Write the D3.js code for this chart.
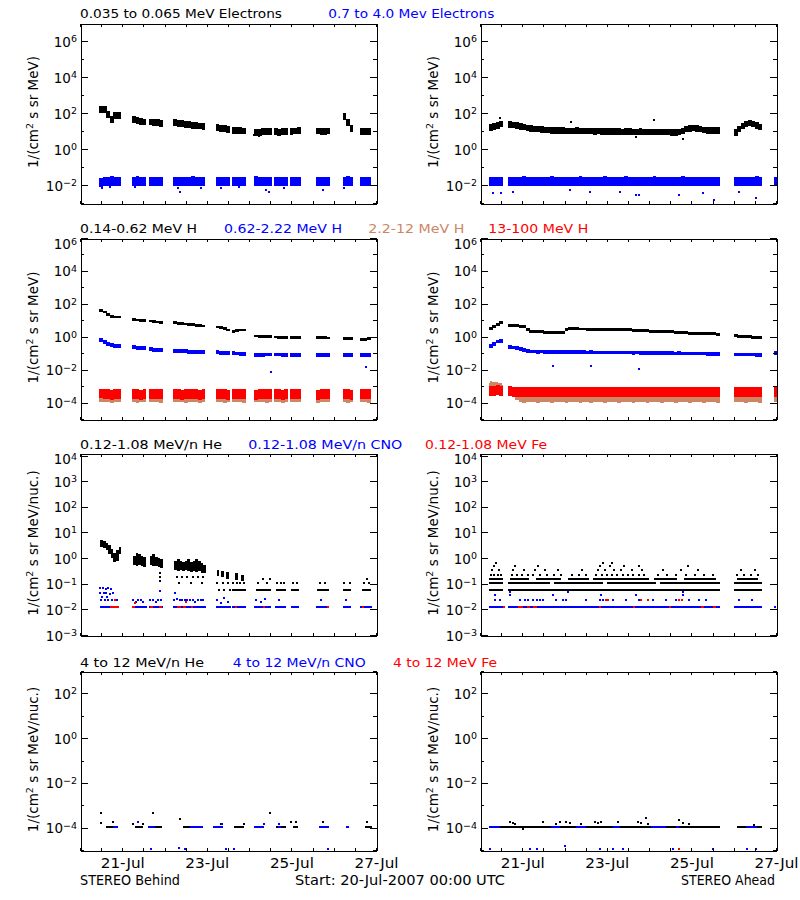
<!DOCTYPE html>
<html><head><meta charset="utf-8">
<script src="https://cdn.jsdelivr.net/npm/d3@7"></script>
<style>body{margin:0;background:#fff}svg{display:block}</style>
</head><body><svg id="c" width="800" height="900"></svg>
<script>
// ---------------- DATA (hours since 20-Jul-2007 00:00 UTC, values as log10) ----------------
const tickHours = d3.range(0, 169, 12);
const dateLabels = ["21-Jul", "23-Jul", "25-Jul", "27-Jul"];
const dateLabelHours = [24, 72, 120, 168];
const BIN = 2; // hours per sample

// data coverage: [start hour, number of 2-h samples]
const behindSegs = [[11,6],[29.5,4],[39,4],[53,9],[77,4],[86,4],[99,5],[110,4],[119,3],[134,4],[149,3],[159,3]];
const aheadSegs = [[5,4],[16,60],[144,8],[167,1]];

// Row 1: electrons
const eLoBehind = [2.2,2.2,1.9,1.65,1.85,1.85, 1.65,1.6,1.55,1.5, 1.5,1.45,1.45,1.42, 1.45,1.4,1.4,1.38,1.35,1.32,1.3,1.28,1.25, 1.2,1.15,1.12,1.1, 1.05,1.05,1.02,1.0, 0.92,0.9,0.95,0.95,0.98, 0.95,0.92,0.95,0.98, 0.95,1.0,1.05, 1.0,0.95,0.95,1.0, 1.8,1.45,1.12, 0.98,0.95,0.98];
const eHiBehind = [-1.85,-1.8,-1.82,-1.78,-1.8,-1.82, -1.8,-1.78,-1.82,-1.8, -1.8,-1.82,-1.8,-1.8, -1.82,-1.8,-1.8,-1.82,-1.8,-1.78,-1.8,-1.82,-1.8, -1.82,-1.8,-1.8,-1.82, -1.8,-1.8,-1.82,-1.8, -1.78,-1.8,-1.82,-1.82,-1.8, -1.8,-1.82,-1.8,-1.8, -1.8,-1.82,-1.8, -1.82,-1.8,-1.8,-1.82, -1.8,-1.78,-1.8, -1.82,-1.8,-1.8];
const eLoAhead = [1.2,1.25,1.3,1.38,
  1.35,1.32,1.3,1.25,1.22, 1.18,1.15,1.12,1.1,
  1.08,1.06,1.05,1.04,1.03,1.02,1.02,1.01,1.0,1.0,1.02,1.0,0.99,1.0,1.0,0.98,0.99,
  0.98,0.97,0.97,0.96,0.97,0.96,0.95,0.96,0.96,0.95,0.95,0.96,0.95,0.94,0.95,0.95,0.94,0.95,0.95,
  0.94,0.93,0.92,0.95,1.0, 1.1,1.15,1.18,1.15,1.1, 1.06,1.04,1.03,1.02,1.02,
  0.92,1.1,1.28,1.38,1.45,1.4,1.3,1.22,
  null];
const eHiAhead = [-1.82,-1.8,-1.8,-1.82,
  -1.8,-1.82,-1.8,-1.8,-1.78,-1.8,-1.82,-1.8,-1.8,-1.82,
  -1.8,-1.8,-1.78,-1.8,-1.82,-1.8,-1.8,-1.82,-1.8,-1.8,
  -1.78,-1.8,-1.82,-1.8,-1.8,-1.8,-1.82,-1.78,-1.8,-1.8,
  -1.82,-1.8,-1.8,-1.78,-1.8,-1.82,-1.8,-1.8,-1.8,-1.82,
  -1.8,-1.78,-1.8,-1.82,-1.8,-1.8,-1.8,-1.82,-1.8,-1.78,
  -1.8,-1.8,-1.82,-1.8,-1.8,-1.82,-1.8,-1.8,-1.82,-1.8,
  -1.82,-1.8,-1.8,-1.82,-1.8,-1.8,-1.78,-1.82,
  -1.8];
const eLoBehindOut = [[99,0.8],[101.8,0.7]];
const eHiBehindOut = [[12.25,-2.19],[16.97,-2.09],[31.1,-2.09],[55.6,-2.19],[56.6,-2.37],[68.8,-2.19],[80.1,-2.19],[90.5,-2.09],[105.6,-2.28],[107.5,-2.37],[116,-2.19],[137.7,-2.28],[149.9,-2.19]];
const eLoAheadOut = [[11.3,1.7],[51.9,1.52],[99,1.61],[88.6,0.69],[115,0.54]];
const eHiAheadOut = [[7.5,-2.46],[12.2,-2.46],[18.9,-2.37],[50.9,-2.28],[62.2,-2.37],[79.2,-2.37],[88.6,-2.56],[90.5,-2.56],[113.1,-2.56],[126.3,-2.46],[132.9,-2.83],[147,-2.37],[156.5,-2.74]];

// Row 2: protons
const hLoBehind = [1.58,1.5,1.35,1.22,1.2,1.2, 1.05,1.02,1.0,0.98, 0.95,0.93,0.9,0.87, 0.85,0.82,0.8,0.78,0.76,0.73,0.7,0.68,0.66, 0.6,0.55,0.5,0.42, 0.32,0.38,0.4,0.42, 0.05,0.02,0.02,0.0,0.0, -0.02,-0.05,-0.05,-0.05, -0.03,-0.03,-0.05, -0.05,-0.05,-0.05,-0.08, -0.1,-0.12,-0.12, -0.18,-0.15,-0.12];
const hMidBehind = [-0.2,-0.3,-0.45,-0.5,-0.55,-0.55, -0.65,-0.68,-0.7,-0.7, -0.75,-0.78,-0.8,-0.8, -0.85,-0.87,-0.88,-0.88,-0.9,-0.9,-0.9,-0.92,-0.92, -0.95,-0.98,-1.0,-1.0, -1.0,-1.02,-1.05,-1.05, -1.1,-1.1,-1.1,-1.08,-1.08, -1.08,-1.08,-1.1,-1.1, -1.1,-1.1,-1.1, -1.1,-1.1,-1.1,-1.1, -1.1,-1.1,-1.1, -1.12,-1.12,-1.12];
const hHiBehind = [-3.82,-3.8,-3.82,-3.84,-3.82,-3.8, -3.82,-3.84,-3.82,-3.8, -3.82,-3.82,-3.8,-3.84, -3.82,-3.8,-3.82,-3.84,-3.82,-3.8,-3.82,-3.84,-3.82, -3.8,-3.82,-3.84,-3.82, -3.82,-3.8,-3.82,-3.84, -3.82,-3.8,-3.82,-3.84,-3.82, -3.8,-3.82,-3.84,-3.82, -3.82,-3.8,-3.82, -3.84,-3.82,-3.8,-3.82, -3.82,-3.84,-3.82, -3.8,-3.82,-3.84];
const hTopBehind = [-3.45,-3.5,-3.48,-3.52,-3.5,-3.46, -3.5,-3.48,-3.52,-3.5, -3.48,-3.5,-3.46,-3.5, -3.5,-3.48,-3.52,-3.5,-3.46,-3.5,-3.48,-3.52,-3.5, -3.5,-3.46,-3.5,-3.52, -3.48,-3.5,-3.5,-3.46, -3.52,-3.5,-3.48,-3.5,-3.5, -3.46,-3.5,-3.52,-3.48, -3.5,-3.5,-3.48, -3.52,-3.5,-3.46,-3.5, -3.48,-3.5,-3.52, -3.5,-3.48,-3.5];
const hLoAhead = [0.5,0.6,0.72,0.85,
  0.7,0.68,0.66,0.62,0.6, 0.45,
  0.32,0.3,0.3,0.3,0.28,0.28,0.27,0.26,0.25,0.25,
  0.45,0.5,0.48,0.48,0.47,0.47,0.46,0.46,0.46,0.45,0.45,0.45,0.44,0.44,0.44,0.43,0.43,0.42,0.42,0.4,
  0.38,0.37,0.36,0.35,0.34,0.33,0.33,0.32,0.31,0.3,0.3,
  0.25,0.24,0.24,0.23,0.22,0.22,0.21,0.2,0.2,0.19,0.18,0.17,0.16,
  0.05,0.03,0.02,0.0,0.0,-0.02,-0.03,-0.05,
  null];
const hMidAhead = [-0.55,-0.45,-0.3,-0.25,
  -0.62,-0.65,-0.7,-0.75,-0.8,-0.88,
  -0.9,-0.9,-0.91,-0.9,-0.92,-0.91,-0.92,-0.92,-0.93,-0.92,
  -0.93,-0.93,-0.94,-0.93,-0.94,-0.94,-0.95,-0.94,-0.95,-0.95,
  -0.95,-0.96,-0.95,-0.96,-0.96,-0.97,-0.96,-0.97,-0.97,-0.98,
  -0.97,-0.98,-0.98,-0.99,-0.98,-0.99,-0.99,-1.0,-0.99,-1.0,
  -1.0,-1.01,-1.0,-1.01,-1.02,-1.01,-1.02,-1.02,-1.03,-1.03,
  -1.04,-1.04,-1.05,-1.05,
  -1.08,-1.08,-1.08,-1.09,-1.08,-1.09,-1.1,-1.1,
  -1.0];
const hHiAhead = [-3.0,-2.95,-3.0,-3.1,
  -3.3,-3.5,-3.7,
  -3.82,-3.84,-3.82,-3.8,-3.82,-3.84,-3.82,-3.8,-3.82,-3.84,
  -3.82,-3.8,-3.82,-3.84,-3.82,-3.8,-3.82,-3.84,-3.82,-3.8,
  -3.84,-3.82,-3.8,-3.82,-3.84,-3.82,-3.8,-3.82,-3.84,-3.82,
  -3.8,-3.82,-3.84,-3.82,-3.8,-3.82,-3.84,-3.82,-3.8,-3.82,
  -3.84,-3.82,-3.8,-3.82,-3.84,-3.82,-3.8,-3.82,-3.84,-3.82,
  -3.8,-3.82,-3.84,-3.82,-3.8,-3.82,-3.84,
  -3.82,-3.8,-3.82,-3.84,-3.82,-3.8,-3.82,-3.84,
  -3.82];
const hTopAhead = [-3.3,-3.28,-3.25,-3.3,
  -3.32,-3.35,-3.36,-3.34,-3.36,-3.38,-3.36,-3.35,-3.37,-3.36,
  -3.35,-3.37,-3.36,-3.38,-3.36,-3.35,-3.37,-3.36,-3.34,-3.36,
  -3.38,-3.36,-3.35,-3.37,-3.36,-3.38,-3.36,-3.35,-3.37,-3.36,
  -3.35,-3.37,-3.36,-3.38,-3.36,-3.34,-3.36,-3.37,-3.36,-3.35,
  -3.37,-3.36,-3.38,-3.36,-3.35,-3.37,-3.36,-3.34,-3.36,-3.38,
  -3.36,-3.35,-3.37,-3.36,-3.38,-3.36,-3.35,-3.37,-3.36,-3.36,
  -3.36,-3.35,-3.37,-3.36,-3.38,-3.36,-3.35,-3.37,
  -3.35];
const hMidBehindOut = [[108.4,-2.15],[162.2,-1.82]];
const hMidAheadOut = [[41.5,-1.78],[63.2,-1.78],[90.5,-1.94]];
const hHiAheadOut = [[6,-2.75],[7,-2.85],[8,-3.2],[9.5,-2.8],[10.5,-3.3],[12,-2.9],[17,-3.1],[18,-3.25],[19,-3.35]];

// Row 3: 0.12-1.08 MeV/n ions  ([hour, lo, hi] clouds, [h0, h1, level] runs, [hour, level] points)
const heBehindCloud = [[11.5,0.45,0.7],[13,0.4,0.65],[14.5,0.3,0.6],[16,0.15,0.5],[17.5,0.0,0.35],[19,-0.15,0.2],[20.5,-0.1,0.3],[22,0.15,0.45],
  [30,-0.25,0.1],[31.5,-0.3,0.2],[33,-0.25,0.15],[34.5,-0.3,0.1],[36,-0.35,0.05],
  [39.5,-0.25,0.1],[41,-0.3,0.15],[42.5,-0.3,0.05],[44,-0.35,0.0],[45.5,-0.4,-0.05],
  [53.5,-0.45,-0.1],[55,-0.5,-0.05],[56.5,-0.45,-0.1],[58,-0.5,-0.15],[59.5,-0.45,-0.1],[61,-0.5,-0.05],[62.5,-0.55,-0.15],[64,-0.5,-0.1],[65.5,-0.55,-0.05],[67,-0.5,-0.1],[68.5,-0.6,-0.2],[70,-0.6,-0.25],
  [77.5,-0.7,-0.45],[80,-0.75,-0.5],[83,-0.8,-0.55],[88,-0.85,-0.6],[91.5,-0.9,-0.65]];
const heBehindRuns = [[86.5,94,-1.26],[100,108.5,-1.26],[111,117,-1.26],[120,124.5,-1.26],[134.5,141.5,-1.26],[149.5,154,-1.26],[160,165,-1.26]];
const heBehindPts = [[45.3,-0.6],[45.3,-0.75],[45.6,-0.9],[55,-0.73],[58,-0.73],[61,-0.73],[64,-0.73],[67,-0.73],[70,-0.73],[56,-0.99],[63,-0.99],[69,-0.99],
  [78,-0.99],[81,-0.99],[84,-0.99],[79,-1.26],[82,-1.26],[85,-1.26],[87,-0.99],[89,-0.99],[91,-0.99],[93,-0.99],
  [101,-0.99],[104,-0.8],[106,-0.99],[108,-0.8],[112,-0.99],[114,-0.99],[116,-0.99],[121,-0.99],[123,-0.99],
  [136,-0.99],[139,-0.99],[150,-0.99],[153,-0.99],[161,-0.99],[163,-0.8],[164,-0.99]];
const cnoBehindRuns = [[11.5,22,-1.92],[29.5,38,-1.92],[39,47,-1.92],[53,71.5,-1.92],[77,85.5,-1.92],[86.5,94,-1.92],[99,108.5,-1.92],[110.5,117,-1.92],[119.5,124.5,-1.92],[134,141.5,-1.92],[149,154,-1.92],[159,165.5,-1.92]];
const cnoBehindPts = [[11.5,-1.15],[13,-1.15],[14.5,-1.2],[16,-1.15],[17.5,-1.2],[11.5,-1.35],[13.5,-1.37],[15,-1.35],[17,-1.4],[18.5,-1.37],
  [12,-1.63],[14,-1.63],[16,-1.63],[18,-1.63],[20,-1.63],[21,-1.63],[12.5,-1.5],[15.5,-1.5],
  [30,-1.63],[31.5,-1.7],[33,-1.63],[34.5,-1.63],[36,-1.7],[40,-1.63],[41.5,-1.63],[43,-1.7],[44.5,-1.63],[46,-1.63],[45.5,-1.3],
  [53.5,-1.63],[55,-1.6],[56.5,-1.63],[58,-1.63],[59.5,-1.63],[61,-1.63],[62.5,-1.63],[64,-1.63],[65.5,-1.7],[67,-1.63],[68.5,-1.63],[70,-1.63],[54,-1.35],
  [78,-1.63],[80,-1.75],[82,-1.55],[84,-1.7],[100,-1.63],[103,-1.7],[105,-1.6],[113,-1.63],[137,-1.63],[151,-1.63]];
const feBehindRuns = [[17,22,-1.92],[29.5,31,-1.92],[39.8,41.5,-1.92],[45,46.6,-1.92],[55,57.5,-1.92],[58.5,60,-1.92],[62.8,64.4,-1.92],[88,89,-1.92],[104,105,-1.92],[140,141,-1.92],[160,161,-1.92]];
const feBehindPts = [[20,-1.63],[31,-1.75],[60,-1.7]];

const heAheadRuns = [[5,13,-1.26],[16,136,-1.26],[144,160,-1.26],
  [5,13,-0.97],[16,40,-0.97],[42,70,-0.97],[72,100,-0.97],[102,136,-0.97],[144,160,-0.97],
  [5,13,-0.8],[17,28,-0.8],[32,46,-0.8],[50,62,-0.8],[64,96,-0.8],[99,112,-0.8],[116,134,-0.8],[146,158,-0.8]];
const heAheadPts = [[6,-0.65],[8,-0.65],[10,-0.65],[12,-0.65],[18,-0.65],[21,-0.65],[24,-0.65],[27,-0.65],[30,-0.65],[34,-0.65],[38,-0.65],[42,-0.65],[46,-0.65],
  [52,-0.65],[56,-0.65],[60,-0.65],[66,-0.65],[69,-0.65],[72,-0.65],[75,-0.65],[78,-0.65],[81,-0.65],[84,-0.65],[87,-0.65],[90,-0.65],[93,-0.65],
  [101,-0.65],[106,-0.65],[111,-0.65],[117,-0.65],[122,-0.65],[127,-0.65],[132,-0.65],[146,-0.65],[150,-0.65],[154,-0.65],[158,-0.65],
  [7,-0.48],[11,-0.48],[19,-0.48],[25,-0.48],[31,-0.48],[37,-0.48],[44,-0.48],[58,-0.48],[67,-0.48],[71,-0.48],[76,-0.48],[80,-0.48],[86,-0.48],[92,-0.48],[104,-0.48],[114,-0.48],[124,-0.48],[148,-0.48],[156,-0.48],
  [8,-0.32],[20,-0.32],[33,-0.32],[68,-0.32],[74,-0.32],[82,-0.32],[90,-0.32],[118,-0.32],[9,-0.2],[70,-0.2],[75,-0.2]];
const cnoAheadRuns = [[5,13,-1.92],[16,136,-1.92],[144,160,-1.92],[167,168,-1.92]];
const cnoAheadPts = [[8.5,-1.64],[11.3,-1.64],[22.6,-1.64],[25.5,-1.64],[27.3,-1.64],[30.2,-1.64],[32.1,-1.64],[34,-1.64],[35.8,-1.64],[43.4,-1.64],[47.1,-1.64],[49,-1.64],[60.3,-1.64],[67.9,-1.64],[69.8,-1.64],[75.4,-1.64],[83,-1.64],[90.5,-1.64],[98.1,-1.64],[105.6,-1.64],[111.3,-1.64],[118.8,-1.64],[124.5,-1.64],[128.3,-1.64],[147.1,-1.64],[154.6,-1.64],
  [8.5,-1.44],[17,-1.44],[41.5,-1.44],[68.8,-1.44],[88.6,-1.44],[115,-1.44],[17,-1.32],[50,-1.32],[115,-1.32]];
const feAheadRuns = [[13,14,-1.92],[21.7,24.5,-1.92],[26.4,28.3,-1.92],[30.2,32.1,-1.92],[67.5,68.5,-1.92],[86.7,87.6,-1.92],[107.5,108.4,-1.92],[125.4,127.3,-1.92],[132,133.8,-1.92]];
const feAheadPts = [[71.7,-1.64],[72.6,-1.64],[91.5,-1.64],[95.2,-1.64],[113.1,-1.64],[114.6,-1.64]];

// Row 4: 4-12 MeV/n ions
const he4BehindRuns = [[15,19.8,-3.98],[31,35.8,-3.98],[38.7,46.3,-3.98],[58.5,69.8,-3.98],[87.6,93.3,-3.98],[111.3,117,-3.98],[120.7,123.5,-3.98],[161.6,165.5,-3.98]];
const he4BehindPts = [[12.2,-3.33],[12.2,-3.8],[18.9,-3.73],[29.8,-3.86],[35.8,-3.86],[41.5,-3.33],[56.6,-3.62],[80.1,-3.86],[93.3,-3.86],[104.6,-3.86],[107.8,-3.33],[119.7,-3.73],[122.5,-3.73],[138,-3.73],[163.1,-3.73]];
const cno4BehindRuns = [[18.9,21.7,-3.98],[38.7,42.4,-3.98],[62.2,69.8,-3.98],[75.4,81,-3.98],[99,104.6,-3.98],[112.2,114.1,-3.98],[135.8,141.4,-3.98],[150.8,152.7,-3.98]];
const cno4BehindPts = [[33,-3.73],[80.5,-3.86],[104.6,-3.86],[113.1,-3.86],[40.5,-4.95],[59.4,-4.95],[60.3,-4.95],[83,-4.95],[87.6,-4.95],[140.5,-4.95],[56,-4.9]];
const he4AheadRuns = [[11.3,136,-3.98],[146,160,-3.98]];
const he4AheadPts = [[17,-3.73],[18.9,-3.8],[19.8,-3.86],[24.5,-4.05],[35.8,-3.73],[43.4,-3.86],[45.3,-3.76],[49,-3.73],[50.9,-3.8],[57.5,-3.86],[65.1,-3.73],[67,-3.8],[68.8,-3.73],[78.3,-3.73],[89.6,-3.73],[91.5,-3.8],[94.3,-3.58],[95.2,-3.86],[113.1,-3.68],[115,-3.8],[118.8,-3.86],[155.6,-3.9]];
const cno4AheadRuns = [[5,11.3,-3.98],[40.5,45.3,-3.98],[54.7,60.3,-3.98],[75.4,79.2,-3.98],[97.2,105.6,-3.98],[111.3,113.1,-3.98],[150.8,157.4,-3.98]];
const cno4AheadPts = [[5.7,-4.95],[28.3,-4.95],[32.1,-4.95],[67.9,-4.95],[75.4,-4.95],[81.1,-4.95],[109.4,-4.95],[132,-4.95],[151.8,-4.95],[156.5,-4.95],[48.1,-4.8]];
const fe4AheadPts = [[113.1,-4.95]];

// titles (text per series)
const rowTitles = [
  ["0.035 to 0.065 MeV Electrons", "0.7 to 4.0 Mev Electrons"],
  ["0.14-0.62 MeV H", "0.62-2.22 MeV H", "2.2-12 MeV H", "13-100 MeV H"],
  ["0.12-1.08 MeV/n He", "0.12-1.08 MeV/n CNO", "0.12-1.08 MeV Fe"],
  ["4 to 12 MeV/n He", "4 to 12 MeV/n CNO", "4 to 12 MeV Fe"]
];

// ---------------- LAYOUT / STYLE ----------------
const BLACK = "#000000", BLUE = "#0000ff", RED = "#ff0000", TAN = "#cd8564";
const FONT = "DejaVu Sans";
const cols = [{x0: 80, x1: 376}, {x0: 480, x1: 776}];
const rows = [
  {y0: 203, y1: 23, dom: [-3, 7], major: [-2,0,2,4,6], minor: [-3,-1,1,3,5], unit: "MeV)", titleY: 17.5,
   titleX: [80, 328.3], titleW: [202, 166], colors: [BLACK, BLUE]},
  {y0: 419, y1: 238, dom: [-5, 6], major: [-4,-2,0,2,4,6], minor: [-5,-3,-1,1,3,5], unit: "MeV)", titleY: 233,
   titleX: [80, 224, 368.3, 488.3], titleW: [117, 118, 96, 100], colors: [BLACK, BLUE, TAN, RED]},
  {y0: 635, y1: 453, dom: [-3, 4.1], major: [-3,-2,-1,0,1,2,3,4], minor: [], unit: "MeV/nuc.)", titleY: 448.5,
   titleX: [80, 248.3, 425], titleW: [142, 154, 122], colors: [BLACK, BLUE, RED]},
  {y0: 850, y1: 671, dom: [-5, 3], major: [-4,-2,0,2], minor: [-5,-3,-1,1,3], unit: "MeV/nuc.)", titleY: 666.5,
   titleX: [80, 232.7, 393], titleW: [124, 133, 104], colors: [BLACK, BLUE, RED]}
];

// layers per panel (drawn in order)
const panels = [
  {row: 0, col: 0, layers: [
    {k: "band", segs: behindSegs, v: eLoBehind, s: 0.19, c: BLACK}, {k: "pts", v: eLoBehindOut, c: BLACK},
    {k: "band", segs: behindSegs, v: eHiBehind, s: 0.26, c: BLUE}, {k: "pts", v: eHiBehindOut, c: BLUE}]},
  {row: 0, col: 1, layers: [
    {k: "band", segs: aheadSegs, v: eLoAhead, s: 0.18, c: BLACK}, {k: "pts", v: eLoAheadOut, c: BLACK},
    {k: "band", segs: aheadSegs, v: eHiAhead, s: 0.26, c: BLUE}, {k: "pts", v: eHiAheadOut, c: BLUE}]},
  {row: 1, col: 0, layers: [
    {k: "band", segs: behindSegs, v: hLoBehind, s: 0.08, c: BLACK},
    {k: "band", segs: behindSegs, v: hMidBehind, s: 0.12, c: BLUE}, {k: "pts", v: hMidBehindOut, c: BLUE},
    {k: "band", segs: behindSegs, v: hHiBehind, s: 0.17, c: TAN},
    {k: "band", segs: behindSegs, v: hTopBehind, s: 0.3, c: RED}]},
  {row: 1, col: 1, layers: [
    {k: "band", segs: aheadSegs, v: hLoAhead, s: 0.09, c: BLACK},
    {k: "band", segs: aheadSegs, v: hMidAhead, s: 0.11, c: BLUE}, {k: "pts", v: hMidAheadOut, c: BLUE},
    {k: "band", segs: aheadSegs, v: hHiAhead, s: 0.17, c: TAN}, {k: "pts", v: hHiAheadOut, c: TAN},
    {k: "band", segs: aheadSegs, v: hTopAhead, s: 0.3, c: RED}]},
  {row: 2, col: 0, layers: [
    {k: "cloud", v: heBehindCloud, c: BLACK}, {k: "runs", v: heBehindRuns, c: BLACK}, {k: "pts", v: heBehindPts, c: BLACK},
    {k: "runs", v: cnoBehindRuns, c: BLUE}, {k: "pts", v: cnoBehindPts, c: BLUE},
    {k: "runs", v: feBehindRuns, c: RED}, {k: "pts", v: feBehindPts, c: RED}]},
  {row: 2, col: 1, layers: [
    {k: "runs", v: heAheadRuns, c: BLACK}, {k: "pts", v: heAheadPts, c: BLACK},
    {k: "runs", v: cnoAheadRuns, c: BLUE}, {k: "pts", v: cnoAheadPts, c: BLUE},
    {k: "runs", v: feAheadRuns, c: RED}, {k: "pts", v: feAheadPts, c: RED}]},
  {row: 3, col: 0, layers: [
    {k: "runs", v: he4BehindRuns, c: BLACK}, {k: "pts", v: he4BehindPts, c: BLACK},
    {k: "runs", v: cno4BehindRuns, c: BLUE}, {k: "pts", v: cno4BehindPts, c: BLUE}]},
  {row: 3, col: 1, layers: [
    {k: "runs", v: he4AheadRuns, c: BLACK}, {k: "pts", v: he4AheadPts, c: BLACK},
    {k: "runs", v: cno4AheadRuns, c: BLUE}, {k: "pts", v: cno4AheadPts, c: BLUE},
    {k: "pts", v: fe4AheadPts, c: RED}]}
];

// ---------------- DRAW ----------------
const svg = d3.select("#c");
svg.append("rect").attr("width", 800).attr("height", 900).attr("fill", "#fff");
const P10 = v => Math.pow(10, v);

function expand(segs, vals) {
  const out = []; let i = 0;
  segs.forEach(([t0, n]) => { for (let k = 0; k < n; k++) { const v = vals[i++]; if (v != null) out.push({t: t0 + k * BIN, v}); } });
  return out;
}

panels.forEach((p, pi) => {
  const R = rows[p.row], C = cols[p.col];
  const x = d3.scaleLinear().domain([0, 168]).range([C.x0, C.x1]);
  const y = d3.scaleLog().domain([P10(R.dom[0]), P10(R.dom[1])]).range([R.y0, R.y1]);
  const id = "clip" + pi;
  svg.append("clipPath").attr("id", id).append("rect")
    .attr("x", C.x0 + 1).attr("y", R.y1 + 1).attr("width", C.x1 - C.x0).attr("height", R.y0 - R.y1);
  const g = svg.append("g").attr("clip-path", `url(#${id})`).attr("shape-rendering", "crispEdges");

  p.layers.forEach(L => {
    const lg = g.append("g").attr("fill", L.c);
    if (L.k === "band") {
      lg.selectAll("rect").data(expand(L.segs, L.v)).join("rect")
        .attr("x", d => x(d.t)).attr("width", d => x(d.t + BIN) - x(d.t) + 0.3)
        .attr("y", d => y(P10(d.v + L.s)))
        .attr("height", d => Math.max(2, y(P10(d.v - L.s)) - y(P10(d.v + L.s))));
    } else if (L.k === "cloud") {
      lg.selectAll("rect").data(L.v).join("rect")
        .attr("x", d => x(d[0])).attr("width", d => x(d[0] + 1.5) - x(d[0]))
        .attr("y", d => y(P10(d[2]))).attr("height", d => Math.max(2, y(P10(d[1])) - y(P10(d[2]))));
    } else if (L.k === "runs") {
      lg.selectAll("rect").data(L.v).join("rect")
        .attr("x", d => x(d[0])).attr("width", d => Math.max(2, x(d[1]) - x(d[0])))
        .attr("y", d => y(P10(d[2])) - 1).attr("height", 2);
    } else if (L.k === "pts") {
      lg.selectAll("rect").data(L.v).join("rect")
        .attr("x", d => x(d[0]) - 1).attr("width", 2)
        .attr("y", d => y(P10(d[1])) - 1).attr("height", 2);
    }
  });

  // axes (ticks point inward)
  const ax = svg.append("g").attr("shape-rendering", "crispEdges");
  const put = (axis, tx, ty) => ax.append("g").attr("transform", `translate(${tx},${ty})`).call(axis)
      .call(s => s.selectAll("text").remove()).call(s => s.selectAll("path,line").attr("stroke", "#000"));
  put(d3.axisBottom(x).tickValues(tickHours).tickSizeInner(-3).tickSizeOuter(0), 0, R.y0 + 0.5);
  put(d3.axisTop(x).tickValues(tickHours).tickSizeInner(-3).tickSizeOuter(0), 0, R.y1 + 0.5);
  put(d3.axisLeft(y).tickValues(R.major.map(P10)).tickSizeInner(-7).tickSizeOuter(0), C.x0 + 0.5, 0);
  put(d3.axisRight(y).tickValues(R.major.map(P10)).tickSizeInner(-7).tickSizeOuter(0), C.x1 + 0.5, 0);
  if (R.minor.length) {
    put(d3.axisLeft(y).tickValues(R.minor.map(P10)).tickSizeInner(-3.5).tickSizeOuter(0), C.x0 + 0.5, 0);
    put(d3.axisRight(y).tickValues(R.minor.map(P10)).tickSizeInner(-3.5).tickSizeOuter(0), C.x1 + 0.5, 0);
  }

  // y tick labels 10^n (labels at the very top are kept inside the frame height)
  const lab = svg.append("g").attr("font-family", FONT).attr("fill", "#000");
  R.major.forEach(e => {
    const base = Math.max(y(P10(e)) + 5.5, R.y1 + 11);
    const t = lab.append("text").attr("x", C.x0 - 3).attr("y", base)
      .attr("text-anchor", "end").attr("font-size", 13.5);
    t.append("tspan").text("10");
    t.append("tspan").attr("dy", -4.5).attr("font-size", 9.5).text(e < 0 ? "\u2212" + (-e) : String(e));
  });

  // y title
  const cy = (R.y0 + R.y1) / 2 - 1, tx = C.x0 - 42;
  const yt = svg.append("text").attr("transform", `translate(${tx},${cy}) rotate(-90)`)
    .attr("text-anchor", "middle").attr("font-family", FONT).attr("font-size", 13.5).attr("fill", "#000");
  yt.append("tspan").text("1/(cm");
  yt.append("tspan").attr("dy", -5).attr("font-size", 9.5).text("2");
  yt.append("tspan").attr("dy", 5).text(" s sr " + R.unit);

  // x date labels on last row
  if (p.row === 3) {
    dateLabels.forEach((s, i) => {
      svg.append("text").attr("x", x(dateLabelHours[i]) + 0.5).attr("y", 868)
        .attr("text-anchor", "middle").attr("font-family", FONT).attr("font-size", 13.5)
        .attr("textLength", 44).attr("lengthAdjust", "spacingAndGlyphs").text(s);
    });
  }
});

// row titles
rows.forEach((R, ri) => {
  rowTitles[ri].forEach((s, i) => {
    svg.append("text").attr("x", R.titleX[i]).attr("y", R.titleY)
      .attr("font-family", FONT).attr("font-size", 12).attr("fill", R.colors[i])
      .attr("textLength", R.titleW[i]).attr("lengthAdjust", "spacingAndGlyphs").text(s);
  });
});

// footer
const foot = svg.append("g").attr("font-family", FONT).attr("font-size", 13.5).attr("fill", "#000");
foot.append("text").attr("x", 80).attr("y", 885).attr("textLength", 100).attr("lengthAdjust", "spacingAndGlyphs").text("STEREO Behind");
foot.append("text").attr("x", 295).attr("y", 885).attr("textLength", 210).attr("lengthAdjust", "spacingAndGlyphs").text("Start: 20-Jul-2007 00:00 UTC");
foot.append("text").attr("x", 775).attr("y", 885).attr("text-anchor", "end").attr("textLength", 94).attr("lengthAdjust", "spacingAndGlyphs").text("STEREO Ahead");
</script></body></html>
